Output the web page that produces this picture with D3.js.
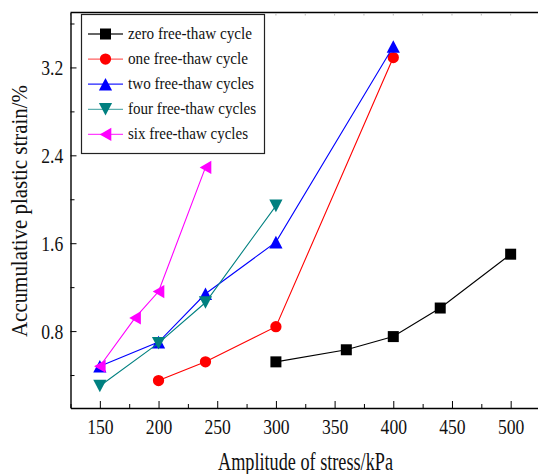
<!DOCTYPE html>
<html>
<head>
<meta charset="utf-8">
<script src="https://cdn.jsdelivr.net/npm/d3@7"></script>
<style>
  html, body { margin: 0; padding: 0; background: #fff; }
  svg { display: block; }
  text { font-family: "Liberation Serif", "Times New Roman", serif; fill: #111; }
</style>
</head>
<body>
<svg id="chart" width="538" height="474"></svg>
<script>
// Stress amplitude (kPa) and accumulated plastic strain (%) per freeze-thaw count
const seriesNames = ["zero free-thaw cycle", "one free-thaw cycle", "two free-thaw cycles",
                     "four free-thaw cycles", "six free-thaw cycles"];
const zeroX = [300, 360, 400, 440, 500];
const zeroY = [0.52, 0.63, 0.75, 1.01, 1.50];
const oneX  = [200, 240, 300, 400];
const oneY  = [0.35, 0.52, 0.84, 3.29];
const twoX  = [150, 200, 240, 300, 400];
const twoY  = [0.48, 0.70, 1.14, 1.61, 3.39];
const fourX = [150, 200, 240, 300];
const fourY = [0.30, 0.69, 1.06, 1.94];
const sixX  = [150, 180, 200, 240];
const sixY  = [0.48, 0.92, 1.16, 2.29];

const xMajor = [150, 200, 250, 300, 350, 400, 450, 500];
const xMinor = [125, 175, 225, 275, 325, 375, 425, 475, 525];
const yMajor = [0.8, 1.6, 2.4, 3.2];
const yMinor = [0.4, 1.2, 2.0, 2.8, 3.6];

const xTitle = "Amplitude of stress/kPa";
const yTitle = "Accumulative plastic strain/%";

const colors  = ["#000000", "#ff0000", "#0000ff", "#008080", "#ff00ff"];
const legendLineColors = ["#333333", "#ff6060", "#2020ff", "#5fb0b0", "#ff40ff"];
const shapes  = ["square", "circle", "up", "down", "left"];

const series = [
  {x: zeroX, y: zeroY}, {x: oneX, y: oneY}, {x: twoX, y: twoY},
  {x: fourX, y: fourY}, {x: sixX, y: sixY}
].map((s, i) => ({
  name: seriesNames[i], color: colors[i], shape: shapes[i],
  points: s.x.map((v, j) => ({x: v, y: s.y[j]}))
}));

const svg = d3.select("#chart");
const x = d3.scaleLinear().domain([125, 525]).range([70.5, 540]);
const y = d3.scaleLinear().domain([0.1, 3.7]).range([408, 12.5]);

// marker shapes
function triangle(dir) {
  const w = 6.6, h = 6.3;
  return {
    draw(ctx) {
      if (dir === "up")   { ctx.moveTo(0, -h); ctx.lineTo(w, h); ctx.lineTo(-w, h); }
      if (dir === "down") { ctx.moveTo(0, h); ctx.lineTo(w, -h); ctx.lineTo(-w, -h); }
      if (dir === "left") { ctx.moveTo(-5.8, 0); ctx.lineTo(5.8, -6.6); ctx.lineTo(5.8, 6.6); }
      ctx.closePath();
    }
  };
}
function symbolPath(shape) {
  if (shape === "square") return d3.symbol(d3.symbolSquare, 121)();
  if (shape === "circle") return d3.symbol(d3.symbolCircle, 100)();
  return d3.symbol(triangle(shape))();
}

// axes
const axisG = svg.append("g");

// top frame line with faint ticks
axisG.append("line").attr("x1", 70.5).attr("x2", 538).attr("y1", 12.5).attr("y2", 12.5)
  .attr("stroke", "#000").attr("stroke-width", 1.4);
axisG.selectAll(".topTick").data(xMajor.concat(xMinor)).join("line")
  .attr("x1", d => x(d)).attr("x2", d => x(d)).attr("y1", 13).attr("y2", 15.5)
  .attr("stroke", "#bbb").attr("stroke-width", 1);

const xAxis = axisG.append("g").attr("transform", "translate(0,408)")
  .call(d3.axisBottom(x).tickValues(xMajor).tickSizeInner(-7).tickSizeOuter(0).tickPadding(10)
    .tickFormat(d3.format("d")));
axisG.append("g").attr("transform", "translate(0,408)")
  .call(d3.axisBottom(x).tickValues(xMinor).tickSizeInner(-4).tickSizeOuter(0).tickFormat(""))
  .select(".domain").remove();

const yAxis = axisG.append("g").attr("transform", "translate(70.5,0)")
  .call(d3.axisLeft(y).tickValues(yMajor).tickSizeInner(-6).tickSizeOuter(0).tickPadding(9)
    .tickFormat(d3.format(".1f")));
axisG.append("g").attr("transform", "translate(70.5,0)")
  .call(d3.axisLeft(y).tickValues(yMinor).tickSizeInner(-4).tickSizeOuter(0).tickFormat(""))
  .select(".domain").remove();

axisG.selectAll(".domain").attr("stroke", "#000").attr("stroke-width", 1.4);
axisG.selectAll(".tick line").attr("stroke", "#000").attr("stroke-width", 1);
axisG.selectAll(".tick text")
  .attr("font-family", "Liberation Serif, Times New Roman, serif")
  .attr("font-size", 22).attr("fill", "#111")
  .attr("transform", "scale(0.8,1)");

// axis titles
svg.append("text")
  .attr("x", 218).attr("y", 470)
  .attr("font-size", 25)
  .attr("textLength", 175).attr("lengthAdjust", "spacingAndGlyphs")
  .text(xTitle);
svg.append("text")
  .attr("transform", "translate(27,337) rotate(-90)")
  .attr("font-size", 24)
  .attr("textLength", 252).attr("lengthAdjust", "spacingAndGlyphs")
  .text(yTitle);

// series lines and markers
const line = d3.line().x(d => x(d.x)).y(d => y(d.y));
const plot = svg.append("g");
series.forEach(s => {
  const g = plot.append("g");
  g.append("path").attr("d", line(s.points))
    .attr("fill", "none").attr("stroke", s.color).attr("stroke-width", 1.1);
  g.selectAll("path.m").data(s.points).join("path").attr("class", "m")
    .attr("transform", d => `translate(${x(d.x)},${y(d.y)})`)
    .attr("d", symbolPath(s.shape))
    .attr("fill", s.color);
});

// legend
const legendTextWidths = [124, 120, 126, 128, 120];
const legend = svg.append("g");
legend.append("rect").attr("x", 81.5).attr("y", 14.5).attr("width", 183).attr("height", 139)
  .attr("fill", "#fff").attr("stroke", "#222").attr("stroke-width", 1.2);
series.forEach((s, i) => {
  const cy = 34 + i * 25.1;
  legend.append("line").attr("x1", 88).attr("x2", 123).attr("y1", cy).attr("y2", cy)
    .attr("stroke", legendLineColors[i]).attr("stroke-width", 1.3);
  legend.append("path").attr("transform", `translate(105.5,${cy})`)
    .attr("d", symbolPath(s.shape)).attr("fill", s.color);
  legend.append("text").attr("x", 128).attr("y", cy + 5)
    .attr("font-size", 16)
    .attr("textLength", legendTextWidths[i]).attr("lengthAdjust", "spacingAndGlyphs")
    .text(s.name);
});
</script>
</body>
</html>
